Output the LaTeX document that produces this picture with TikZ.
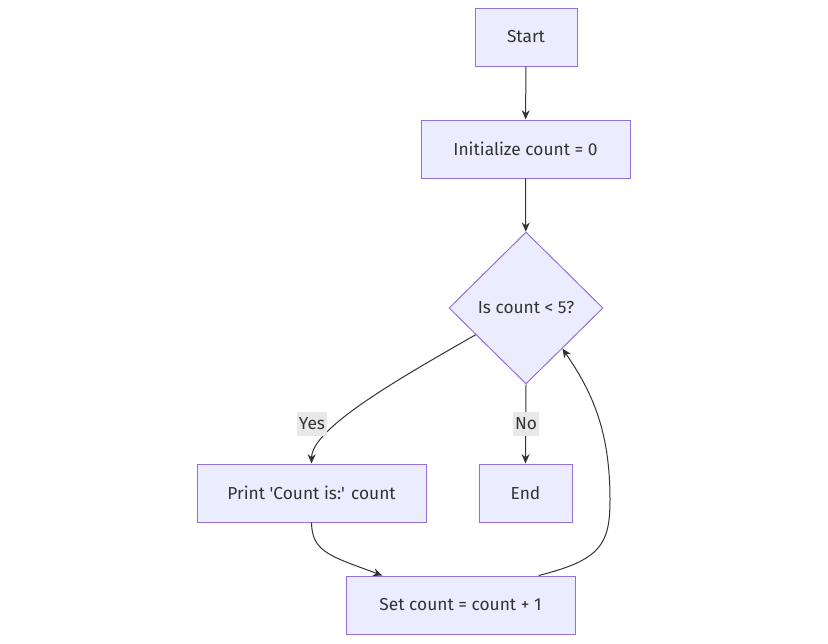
\documentclass[tikz,border=0pt]{standalone}
\usepackage{fontspec}
\setmainfont{Fira Sans}
\usetikzlibrary{shapes.geometric,arrows.meta,calc}
\definecolor{boxfill}{HTML}{ECECFF}
\definecolor{boxline}{HTML}{9370DB}
\definecolor{edgeline}{HTML}{333333}
\definecolor{labelbg}{HTML}{E8E8E8}
\begin{document}
\begin{tikzpicture}[x=0.75pt,y=-0.75pt,
    every node/.style={font=\fontsize{13}{15}\selectfont, text=edgeline},
    box/.style={rectangle,draw=boxline,fill=boxfill,line width=0.75pt,inner sep=0pt,minimum height=43.5pt},
    choice/.style={diamond,draw=boxline,fill=boxfill,line width=0.75pt,inner sep=0pt,minimum width=115.5pt,minimum height=114pt},
    tag/.style={fill=labelbg,inner sep=1.5pt,minimum width=18pt,minimum height=18pt},
    flow/.style={draw=edgeline,line width=0.75pt,line join=round,-{Stealth[length=7pt,width=6pt]}}]
    \useasboundingbox (0,0) rectangle (828,643);
    \node [box,minimum width=76.5pt] (start) at (526,37) {Start};
    \node [box,minimum width=156.75pt] (init) at (525.5,149) {Initialize count = 0};
    \node [choice] (test) at (526,308) {Is count < 5?};
    \node [box,minimum width=171.75pt] (print) at (311.5,493) {Print \textquotesingle Count is:\textquotesingle{} count};
    \node [box,minimum width=69.75pt] (end) at (525.5,493) {End};
    \node [box,minimum width=171.75pt] (incr) at (460.5,605) {Set count = count + 1};
    % straight ones
    \draw [flow] (start) -- (init);
    \draw [flow] (init) -- (test);
    \draw [flow] (test.south) -- (end.north);
    % curved ones
    \draw [flow] ($(test.west)!0.35!(test.south)$) .. controls (400,378) and (312,428) .. (print.north);
    \draw [flow] (print.south) .. controls (312,552) and (330,556) .. ($(incr.north west)!0.16!(incr.north east)$);
    \draw [flow] ($(incr.north west)!0.84!(incr.north east)$) .. controls (600,560) and (610,545) .. (610,500)
        .. controls (610,430) and (592,392) .. ($(test.south)!0.47!(test.east)$);
    % labels on the edges
    \node [tag] (yes) at (312,424) {Yes};
    \node [tag] (no) at (526,424) {No};
\end{tikzpicture}
\end{document}
